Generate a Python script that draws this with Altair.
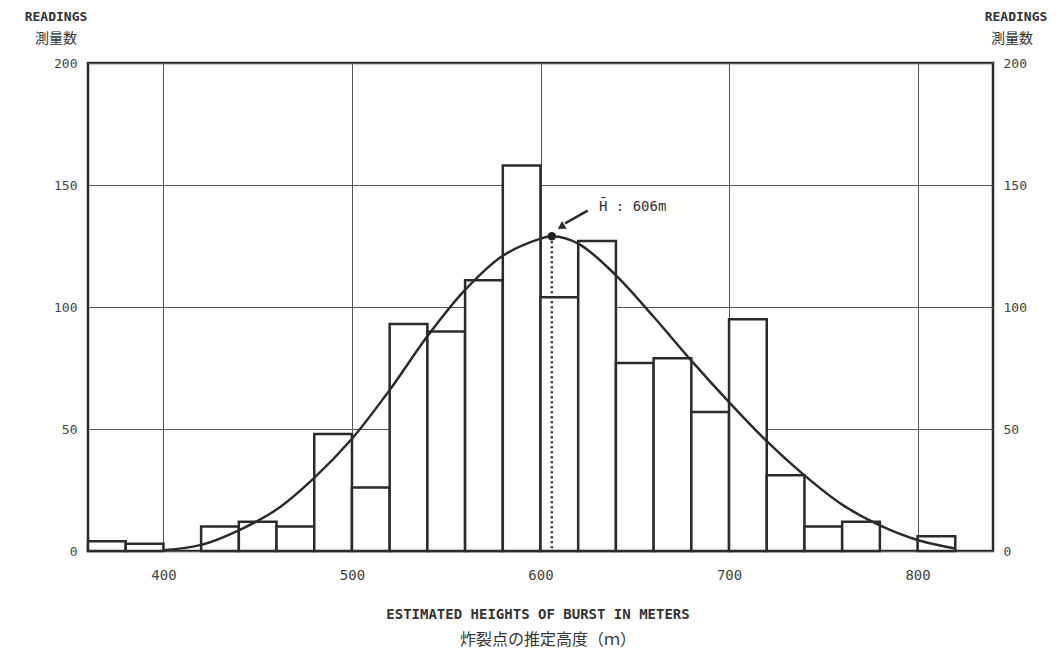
import altair as alt
import pandas as pd

# ---- data ----
bin_start = [360, 380, 400, 420, 440, 460, 480, 500, 520, 540, 560, 580,
             600, 620, 640, 660, 680, 700, 720, 740, 760, 780, 800]
counts = [4, 3, 0, 10, 12, 10, 48, 26, 93, 90, 111, 158,
          104, 127, 77, 79, 57, 95, 31, 10, 12, 0, 6]
bin_width = 20

curve_x = [400, 420, 440, 460, 480, 500, 520, 540, 560, 580, 600, 606,
           620, 640, 660, 680, 700, 720, 740, 760, 780, 800, 820]
curve_y = [0.3, 2.5, 8.5, 17, 30, 46, 66, 88, 107, 121, 128, 129,
           126, 113, 96, 78, 61, 45, 31, 19, 10.5, 4.5, 1]

mean_h = 606
mean_count = 129
mean_label = "H\u0304 : 606m"
label_pos = [631, 141]
arrow_from = [625, 139.5]
arrow_to = [613, 134.3]
arrow_head = [611.5, 133.1]

x_ticks = [400, 500, 600, 700, 800]
y_ticks = [0, 50, 100, 150, 200]

INK = "#2b2b2b"
MONO = "DejaVu Sans Mono"
CJK = "Noto Sans CJK JP"

bars_df = pd.DataFrame({"start": bin_start, "count": counts})
bars_df = bars_df[bars_df["count"] > 0].copy()
bars_df["end"] = bars_df["start"] + bin_width
bars_df["zero"] = 0

curve_df = pd.DataFrame({"h": curve_x, "n": curve_y})
mean_df = pd.DataFrame({"h": [mean_h], "n": [mean_count], "z": [0]})
arrow_df = pd.DataFrame({"x": [arrow_from[0]], "y": [arrow_from[1]],
                         "x2": [arrow_to[0]], "y2": [arrow_to[1]]})
head_df = pd.DataFrame({"x": [arrow_head[0]], "y": [arrow_head[1]]})
label_df = pd.DataFrame({"x": [label_pos[0]], "y": [label_pos[1]], "t": [mean_label]})

xscale = alt.Scale(domain=[360, 840], nice=False, zero=False)
yscale = alt.Scale(domain=[0, 200], nice=False)

x_axis = alt.Axis(orient="bottom", values=x_ticks, grid=True, gridColor="#555", gridWidth=1,
                  ticks=False, domain=False, title=None, labelFont=MONO,
                  labelFontSize=14, labelColor="#444", labelPadding=17,
                  labelBaseline="top")
y_left = alt.Axis(orient="left", values=y_ticks, grid=True, gridColor="#555",
                  gridWidth=1, ticks=False, domain=False, title=None,
                  labelFont=MONO, labelFontSize=13, labelColor="#444",
                  labelPadding=11)
y_right = alt.Axis(orient="right", values=y_ticks, grid=False, ticks=False,
                   domain=False, title=None, labelFont=MONO, labelFontSize=13,
                   labelColor="#444", labelPadding=10)

bars = alt.Chart(bars_df).mark_rect(fill="white", stroke=INK, strokeWidth=2.5).encode(
    x=alt.X("start:Q", scale=xscale, axis=x_axis),
    x2="end:Q",
    y=alt.Y("count:Q", scale=yscale, axis=y_left),
    y2="zero:Q",
)

curve = alt.Chart(curve_df).mark_line(color=INK, strokeWidth=2.5, interpolate="catmull-rom").encode(
    x=alt.X("h:Q", scale=xscale, axis=None),
    y=alt.Y("n:Q", scale=yscale, axis=y_right),
)

dotted = alt.Chart(mean_df).mark_rule(color=INK, strokeWidth=2.5, strokeDash=[2, 3]).encode(
    x=alt.X("h:Q", scale=xscale, axis=None),
    y=alt.Y("n:Q", scale=yscale, axis=None),
    y2="z:Q",
)

dot = alt.Chart(mean_df).mark_point(filled=True, color="#222", size=70, opacity=1).encode(
    x=alt.X("h:Q", scale=xscale, axis=None),
    y=alt.Y("n:Q", scale=yscale, axis=None),
)

arrow = alt.Chart(arrow_df).mark_rule(color=INK, strokeWidth=2.5).encode(
    x=alt.X("x:Q", scale=xscale, axis=None),
    y=alt.Y("y:Q", scale=yscale, axis=None),
    x2="x2:Q", y2="y2:Q",
)

head = alt.Chart(head_df).mark_point(shape="triangle", filled=True, color=INK,
                                     size=80, angle=238, opacity=1).encode(
    x=alt.X("x:Q", scale=xscale, axis=None),
    y=alt.Y("y:Q", scale=yscale, axis=None),
)

label = alt.Chart(label_df).mark_text(font=MONO, fontSize=14, color="#333",
                                      align="left", baseline="middle").encode(
    x=alt.X("x:Q", scale=xscale, axis=None),
    y=alt.Y("y:Q", scale=yscale, axis=None),
    text="t:N",
)

one = pd.DataFrame({"k": [0]})


def txt(s, px, py, font, size, weight="normal"):
    return alt.Chart(one).mark_text(text=s, font=font, fontSize=size, fontWeight=weight,
                                    color="#333", align="center", baseline="middle").encode(
        x=alt.value(px), y=alt.value(py))


titles = [
    txt("READINGS", -32, -46, MONO, 13, "bold"),
    txt("測量数", -32, -24, CJK, 14),
    txt("READINGS", 928, -46, MONO, 13, "bold"),
    txt("測量数", 924, -24, CJK, 14),
    txt("ESTIMATED HEIGHTS OF BURST IN METERS", 450, 552, MONO, 14, "bold"),
    txt("炸裂点の推定高度（ｍ）", 460, 577, CJK, 16),
]

chart = alt.layer(bars, curve, dotted, dot, arrow, head, label, *titles).resolve_axis(
    x="independent", y="independent"
).properties(
    width=905, height=488,
    autosize=alt.AutoSizeParams(type="none"),
    padding={"left": 88, "top": 63, "right": 71, "bottom": 104},
    background="white",
).configure_view(stroke=INK, strokeWidth=2.5)

chart.save("out.html", embed_options={"renderer": "svg", "actions": False})
